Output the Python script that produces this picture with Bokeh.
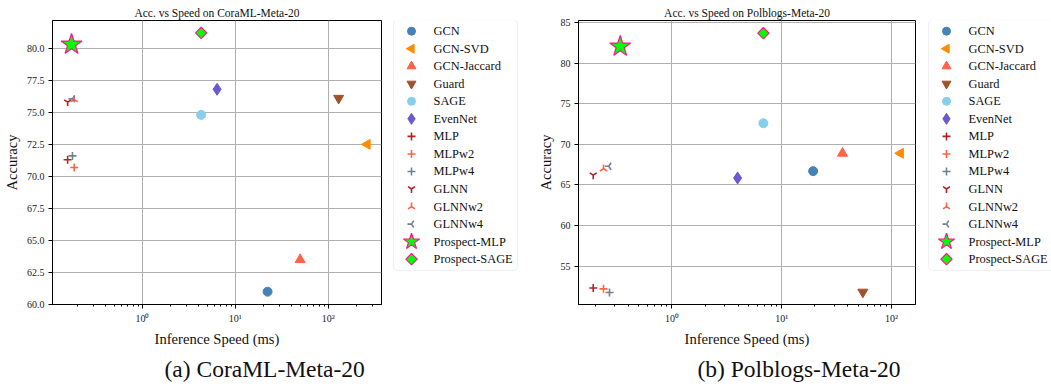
import math
from bokeh.plotting import figure
from bokeh.layouts import row
from bokeh.models import (ColumnDataSource, FixedTicker, PrintfTickFormatter, Title, Range1d,
                          BoxAnnotation)
from bokeh.core.properties import value
from bokeh.embed import file_html
from bokeh.resources import INLINE

methods = ["GCN", "GCN-SVD", "GCN-Jaccard", "Guard", "SAGE", "EvenNet", "MLP", "MLPw2",
           "MLPw4", "GLNN", "GLNNw2", "GLNNw4", "Prospect-MLP", "Prospect-SAGE"]

# CoraML-Meta-20
cora_speed = [22.2, 262, 49.7, 129, 4.29, 6.36, 0.157, 0.185, 0.177, 0.157, 0.185, 0.177, 0.173, 4.29]
cora_acc = [61.0, 72.5, 63.5, 76.1, 74.8, 76.8, 71.3, 70.7, 71.6, 75.8, 76.0, 76.05, 80.3, 81.2]

# Polblogs-Meta-20
pol_speed = [19.3, 120.5, 35.7, 54.7, 6.8, 3.96, 0.192, 0.238, 0.27, 0.192, 0.238, 0.266, 0.338, 6.8]
pol_acc = [66.7, 68.9, 68.9, 51.8, 72.6, 65.86, 52.3, 52.2, 51.75, 66.2, 67.0, 67.3, 82.06, 83.7]

cora_yticks = [60.0, 62.5, 65.0, 67.5, 70.0, 72.5, 75.0, 77.5, 80.0]
pol_yticks = [55, 60, 65, 70, 75, 80, 85]
xticks = [1, 10, 100]
xtick_labels = {1: "10\u2070", 10: "10\u00b9", 100: "10\u00b2"}

# style per method: marker, angle, fill, line, size in plot, size in legend
styles = {
    "GCN": ("circle", 0, "#4682B4", "#4682B4", 9, 8),
    "GCN-SVD": ("triangle", math.pi / 2, "#FF8C00", "#FF8C00", 10, 9),
    "GCN-Jaccard": ("triangle", 0, "#FF6347", "#FF6347", 10, 9),
    "Guard": ("inverted_triangle", 0, "#A0522D", "#A0522D", 10, 9),
    "SAGE": ("circle", 0, "#87CEEB", "#87CEEB", 9, 8),
    "EvenNet": ("diamond", 0, "#6A5ACD", "#6A5ACD", 12, 11),
    "MLP": ("cross", 0, "#B22222", "#B22222", 8, 8),
    "MLPw2": ("cross", 0, "#FF6347", "#FF6347", 8, 8),
    "MLPw4": ("cross", 0, "#708090", "#708090", 8, 8),
    "GLNN": ("y", 0, "#B22222", "#B22222", 8, 8),
    "GLNNw2": ("y", math.pi, "#FF6347", "#FF6347", 8, 8),
    "GLNNw4": ("y", -math.pi / 2, "#708090", "#708090", 8, 8),
    "Prospect-MLP": ("star", 0, "#00FF00", "#FF1493", 22, 17),
    "Prospect-SAGE": ("square", math.pi / 4, "#00FF00", "#FF1493", 8, 8),
}

FONT = "Liberation Serif"
FRAME_TOP = 20.6
FRAME_BOTTOM = 304


def line_w(m):
    mk = styles[m][0]
    if mk in ("cross", "y"):
        return 1.6
    if m.startswith("Prospect"):
        return 1.2
    return 1


def make_panel(title, caption, speed, acc, xr, yr, yticks, yfmt, width, left,
               caption_offset):
    p = figure(x_axis_type="log", output_backend="svg", toolbar_location=None,
               width=width, height=388,
               x_range=Range1d(*xr), y_range=Range1d(*yr),
               min_border_left=left, min_border_top=20, min_border_bottom=84,
               min_border_right=4)
    p.title.text = title
    p.title.text_font = FONT
    p.title.text_font_size = "11.5px"
    p.title.text_font_style = "normal"
    p.title.text_color = "#111111"
    p.title.align = "center"
    p.title.vertical_align = "top"
    p.title.standoff = 0
    p.title.text_line_height = 1.0
    p.outline_line_color = "black"
    p.outline_line_width = 1
    p.background_fill_color = "white"
    p.border_fill_color = "white"

    minor = [m * 10.0 ** e for e in range(-1, 3) for m in range(2, 10)]
    p.xaxis.ticker = FixedTicker(ticks=xticks, minor_ticks=minor)
    p.xaxis.major_label_overrides = xtick_labels
    p.yaxis.ticker = FixedTicker(ticks=yticks)
    p.yaxis.formatter = PrintfTickFormatter(format=yfmt)
    for ax in (p.xaxis[0], p.yaxis[0]):
        ax.axis_line_color = "black"
        ax.major_tick_line_color = "black"
        ax.minor_tick_line_color = "black"
        ax.major_tick_out = 4
        ax.major_tick_in = 0
        ax.minor_tick_out = 2
        ax.minor_tick_in = 0
        ax.major_label_text_font = FONT
        ax.major_label_text_font_size = "10px"
        ax.major_label_text_color = "#222222"
        ax.axis_label_text_font = FONT
        ax.axis_label_text_font_size = "14.6px"
        ax.axis_label_text_font_style = "normal"
        ax.axis_label_text_color = "#111111"
        ax.major_label_standoff = 4
        ax.axis_label_standoff = 4
    p.yaxis.minor_tick_line_color = None
    p.xaxis.axis_label = "Inference Speed (ms)"
    p.yaxis.axis_label = "Accuracy"
    p.grid.grid_line_color = "#b0b0b0"
    p.grid.grid_line_width = 1
    p.xgrid.ticker = FixedTicker(ticks=xticks)
    p.ygrid.ticker = FixedTicker(ticks=yticks)

    for i, m in enumerate(methods):
        mk, ang, fc, lc, sz, _ = styles[m]
        src = ColumnDataSource(dict(x=[speed[i]], y=[acc[i]]))
        p.scatter("x", "y", source=src, marker=mk, angle=ang, size=sz,
                  fill_color=fc, line_color=lc, line_width=line_w(m))

    cap = Title(text=caption, align="left", offset=caption_offset,
                text_font=FONT, text_font_size="23.5px", text_font_style="normal",
                text_color="#111111", standoff=9)
    p.add_layout(cap, "below")
    return p


def make_legend(width, box_left, box_right):
    lg = figure(output_backend="svg", toolbar_location=None, width=width, height=388,
                x_range=Range1d(0, width), y_range=Range1d(FRAME_BOTTOM, FRAME_TOP),
                min_border_left=0, min_border_right=0,
                min_border_top=20, min_border_bottom=84)
    lg.axis.visible = False
    lg.grid.visible = False
    lg.outline_line_color = None
    lg.background_fill_color = "white"
    lg.border_fill_color = "white"
    box_top, box_bottom = 20, 270
    row_h = (box_bottom - box_top - 5) / len(methods)
    lg.add_layout(BoxAnnotation(left=box_left, right=box_right, top=box_top,
                                bottom=box_bottom, fill_color="white", fill_alpha=1,
                                line_color="#cccccc", line_width=1, border_radius=4,
                                level="underlay"))
    gx = box_left + 18
    tx = box_left + 40
    ys = [box_top + 2.5 + row_h * (i + 0.5) for i in range(len(methods))]
    for i, m in enumerate(methods):
        mk, ang, fc, lc, _, lsz = styles[m]
        lg.scatter([gx], [ys[i]], marker=mk, angle=ang, size=lsz, fill_color=fc,
                   line_color=lc, line_width=line_w(m))
    lg.text(x=[tx] * len(methods), y=ys, text=methods, text_font=value(FONT),
            text_font_size="12.4px", text_baseline="middle", text_align="left",
            text_color="#111111")
    return lg


p1 = make_panel("Acc. vs Speed on CoraML-Meta-20", "(a) CoraML-Meta-20",
                cora_speed, cora_acc, (0.108, 373), (60.0, 82.17), cora_yticks, "%.1f",
                385, 51, 112)
l1 = make_legend(143, 8, 132)
p2 = make_panel("Acc. vs Speed on Polblogs-Meta-20", "(b) Polblogs-Meta-20",
                pol_speed, pol_acc, (0.141, 165), (50.27, 85.26), pol_yticks, "%d",
                391, 50, 119)
l2 = make_legend(132, 9, 135)

layout = row(p1, l1, p2, l2)
open("out.html", "w").write(file_html(layout, INLINE))
